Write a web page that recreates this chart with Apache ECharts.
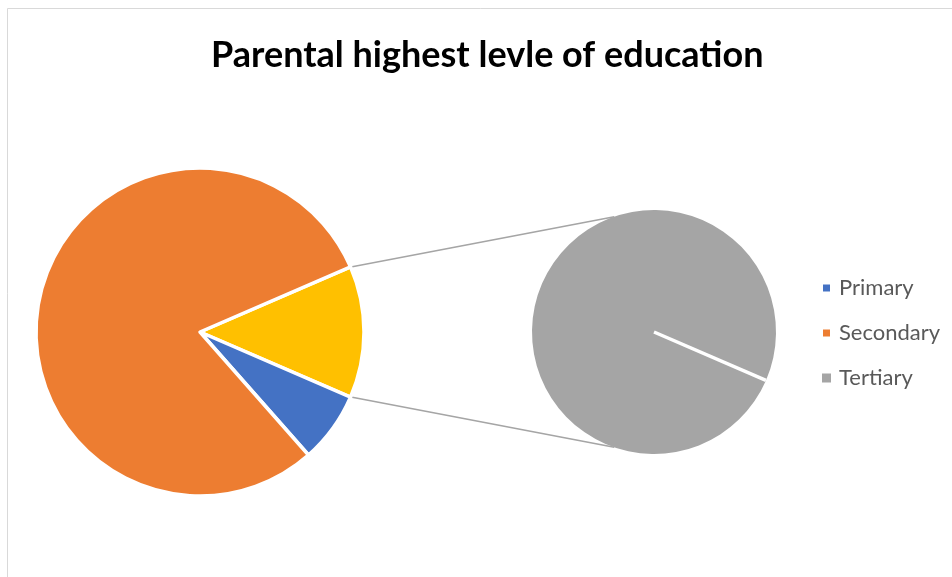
<!DOCTYPE html>
<html>
<head>
<meta charset="utf-8">
<script src="https://cdn.jsdelivr.net/npm/echarts@6/dist/echarts.min.js"></script>
<style>
  html, body { margin: 0; padding: 0; background: #fff; }
  #chart { width: 952px; height: 577px; }
</style>
</head>
<body>
<div id="chart"></div>
<script>
const categories = ['Primary', 'Secondary', 'Tertiary']
const values = [7, 80, 13]
const colors = ['#4472C4', '#ED7D31', '#A5A5A5']
const otherColor = '#FFC000'
// last category goes to the second pie (pie of pie)
const splitIndex = 2

const mainCenter = [200, 332]
const mainRadius = 164
const subCenter = [654, 332]
const subRadius = 122

const total = values.reduce((a, b) => a + b, 0)
const otherValue = values.slice(splitIndex).reduce((a, b) => a + b, 0)
const halfAngle = otherValue / total * 180
const rad = d => d * Math.PI / 180

// connector lines from the "other" slice to the second pie
const edgeR = mainRadius - 1
const startTop = [mainCenter[0] + edgeR * Math.cos(rad(halfAngle)), mainCenter[1] - edgeR * Math.sin(rad(halfAngle))]
const startBot = [startTop[0], 2 * mainCenter[1] - startTop[1]]
const subTouch = 109
const endTop = [subCenter[0] + subRadius * Math.cos(rad(subTouch)), subCenter[1] - subRadius * Math.sin(rad(subTouch))]
const endBot = [endTop[0], 2 * subCenter[1] - endTop[1]]
const divider = [subCenter[0] + subRadius * Math.cos(rad(-halfAngle)), subCenter[1] - subRadius * Math.sin(rad(-halfAngle))]

const mainData = [{ name: 'Other', value: otherValue, itemStyle: { color: otherColor } }]
for (let i = 0; i < splitIndex; i++) {
  mainData.push({ name: categories[i], value: values[i], itemStyle: { color: colors[i] } })
}
const subData = categories.slice(splitIndex).map((n, k) => ({
  name: n, value: values[splitIndex + k], itemStyle: { color: colors[splitIndex + k] }
}))

const chart = echarts.init(document.getElementById('chart'))
chart.setOption({
  animation: false,
  backgroundColor: '#fff',
  title: {
    text: 'Parental highest levle of education',
    left: 206,
    top: 32,
    textStyle: { fontFamily: 'Lato', fontWeight: 'bold', fontSize: 36, color: '#000' }
  },
  legend: {
    orient: 'vertical',
    left: 821,
    top: 277,
    padding: 0,
    itemGap: 23,
    itemWidth: 9,
    itemHeight: 9,
    icon: 'rect',
    data: categories,
    selectedMode: false,
    textStyle: { fontFamily: 'Lato', fontSize: 22, lineHeight: 20, color: '#595959', padding: [0, 0, 0, 3] }
  },
  graphic: [
    { type: 'rect', shape: { x: 7.5, y: 8.5, width: 1000, height: 1000 }, style: { fill: null, stroke: '#d9d9d9', lineWidth: 1 }, silent: true },
    { type: 'line', shape: { x1: startTop[0], y1: startTop[1], x2: endTop[0], y2: endTop[1] }, style: { stroke: '#A5A5A5', lineWidth: 1.5 }, silent: true },
    { type: 'line', shape: { x1: startBot[0], y1: startBot[1], x2: endBot[0], y2: endBot[1] }, style: { stroke: '#A5A5A5', lineWidth: 1.5 }, silent: true },
    { type: 'line', shape: { x1: subCenter[0], y1: subCenter[1], x2: divider[0], y2: divider[1] }, style: { stroke: '#fff', lineWidth: 3.5 }, silent: true, z: 100 }
  ],
  series: [
    {
      type: 'pie',
      center: mainCenter,
      radius: mainRadius,
      startAngle: halfAngle,
      clockwise: true,
      silent: true,
      label: { show: false },
      labelLine: { show: false },
      itemStyle: { borderColor: '#fff', borderWidth: 3.5 },
      data: mainData
    },
    {
      type: 'pie',
      center: subCenter,
      radius: subRadius,
      startAngle: -halfAngle,
      silent: true,
      label: { show: false },
      labelLine: { show: false },
      itemStyle: { borderColor: '#fff', borderWidth: 0 },
      data: subData
    }
  ]
})
</script>
</body>
</html>
